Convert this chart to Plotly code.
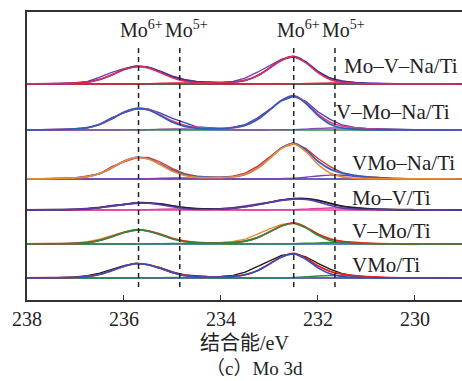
import plotly.graph_objects as go

# ---------------- data ----------------
binding_energy = [238.0, 237.5, 237.0, 236.75, 236.5, 236.25, 236.0, 235.75, 235.5, 235.25,
                  235.0, 234.75, 234.5, 234.25, 234.0, 233.75, 233.5, 233.25, 233.0, 232.75,
                  232.5, 232.25, 232.0, 231.75, 231.5, 231.25, 231.0, 230.5, 230.0, 229.5, 229.0]

samples = ["Mo–V–Na/Ti", "V–Mo–Na/Ti", "VMo–Na/Ti", "Mo–V/Ti", "V–Mo/Ti", "VMo/Ti"]
offsets = [216, 170, 121, 90, 56, 22]

# Mo–V–Na/Ti
raw_1 = [0.3, 0.0, 1.3, 2.6, 6.8, 11.6, 15.4, 18.2, 16.9, 12.8, 7.9, 4.6, 2.5, 1.9, 1.7, 2.5, 5.8, 11.8, 18.6, 24.9, 27.0, 22.4, 12.8, 6.0, 3.1, 1.6, 1.0, 0.4, -0.2, 0.3, 0.0]
env_1 = [0.1, 0.3, 0.9, 1.9, 4.6, 9.1, 14.5, 17.5, 16.5, 12.2, 7.3, 3.9, 2.1, 1.6, 1.4, 1.8, 3.7, 8.3, 15.9, 23.9, 27.5, 21.8, 12.2, 5.6, 2.6, 1.4, 0.7, 0.2, 0.1, 0.1, 0.0]
mo6_1 = [0.1, 0.3, 0.9, 1.9, 4.6, 9.1, 14.4, 17.3, 16.1, 11.5, 6.3, 2.9, 1.3, 1.1, 1.2, 1.7, 3.7, 8.3, 15.9, 23.8, 27.3, 21.3, 11.4, 4.6, 1.6, 0.7, 0.3, 0.1, 0.1, 0.1, 0.0]
mo5_1 = [0, 0, 0, 0, 0, 0, 0.1, 0.2, 0.4, 0.7, 1.0, 1.0, 0.8, 0.5, 0.2, 0.1, 0, 0, 0, 0.1, 0.2, 0.5, 0.8, 1.0, 1.0, 0.7, 0.4, 0.1, 0, 0, 0]

# V–Mo–Na/Ti
raw_2 = [0.2, -0.3, 1.4, 2.2, 6.0, 12.4, 17.0, 21.0, 21.2, 16.8, 11.6, 7.3, 3.2, 2.4, 1.2, 2.8, 5.4, 11.9, 20.5, 29.2, 33.6, 28.7, 18.2, 10.6, 5.0, 2.7, 1.5, 0.6, 0.4, 0.1, 0.3]
env_2 = [0.1, 0.4, 1.1, 2.4, 5.6, 11.3, 17.9, 21.7, 20.4, 15.0, 8.8, 4.6, 2.5, 1.9, 1.6, 2.3, 4.7, 10.4, 19.9, 29.8, 34.4, 27.4, 15.8, 7.8, 3.9, 2.3, 1.2, 0.3, 0.1, 0.1, 0.0]
mo6_2 = [0.1, 0.4, 1.1, 2.4, 5.6, 11.3, 17.8, 21.5, 20.0, 14.3, 7.8, 3.6, 1.7, 1.4, 1.4, 2.2, 4.7, 10.4, 19.8, 29.6, 34.0, 26.5, 14.3, 5.8, 2.0, 0.9, 0.4, 0.1, 0.1, 0.1, 0.0]
mo5_2 = [0, 0, 0, 0, 0, 0, 0.1, 0.2, 0.4, 0.7, 1.0, 1.0, 0.8, 0.5, 0.2, 0.1, 0, 0, 0.1, 0.2, 0.4, 0.9, 1.5, 2.0, 1.9, 1.4, 0.8, 0.2, 0, 0, 0]

# VMo–Na/Ti
raw_3 = [0.3, 0.1, 1.0, 2.8, 5.2, 12.3, 17.2, 21.2, 21.5, 17.0, 10.4, 5.4, 2.9, 2.2, 1.9, 2.8, 5.9, 12.6, 22.4, 31.3, 35.2, 30.6, 20.5, 12.4, 6.3, 3.4, 2.3, 0.8, 0.1, 0.3, -0.2]
env_3 = [0.1, 0.4, 1.1, 2.4, 5.6, 11.2, 17.8, 21.6, 20.3, 14.9, 8.8, 4.5, 2.4, 1.9, 1.6, 2.3, 4.7, 10.7, 20.6, 30.9, 35.8, 29.1, 17.7, 9.9, 5.9, 3.7, 2.0, 0.5, 0.1, 0.1, 0.0]
mo6_3 = [0.1, 0.4, 1.1, 2.4, 5.6, 11.2, 17.7, 21.4, 19.9, 14.2, 7.8, 3.5, 1.6, 1.4, 1.4, 2.2, 4.7, 10.7, 20.4, 30.5, 35.0, 27.3, 14.7, 6.0, 2.1, 0.9, 0.4, 0.2, 0.1, 0.1, 0.0]
mo5_3 = [0, 0, 0, 0, 0, 0, 0.1, 0.2, 0.4, 0.7, 1.0, 1.0, 0.8, 0.5, 0.2, 0.1, 0, 0, 0.2, 0.4, 0.8, 1.8, 3.0, 3.9, 3.8, 2.8, 1.6, 0.3, 0, 0, 0]

# Mo–V/Ti
raw_4 = [0.2, -0.2, 0.9, 1.6, 2.8, 4.5, 5.7, 6.9, 7.4, 6.1, 4.0, 2.6, 1.1, 1.2, 1.6, 2.4, 3.9, 6.0, 7.9, 10.2, 11.6, 11.0, 9.9, 6.4, 3.5, 2.5, 1.0, 0.3, -0.1, 0.2, 0.1]
env_4 = [0.1, 0.3, 0.7, 1.2, 2.3, 4.0, 5.5, 7.1, 7.1, 6.0, 4.2, 2.3, 1.3, 1.0, 1.2, 1.9, 3.3, 5.3, 7.6, 9.8, 11.3, 11.4, 9.6, 6.6, 3.8, 2.3, 1.3, 0.5, 0.2, 0.1, 0.0]
mo6_4 = [0.1, 0.3, 0.7, 1.2, 2.3, 4.0, 5.4, 6.9, 6.7, 5.3, 3.2, 1.3, 0.5, 0.5, 1.0, 1.8, 3.3, 5.3, 7.5, 9.6, 10.9, 10.5, 8.1, 4.6, 1.9, 0.9, 0.5, 0.3, 0.2, 0.1, 0.0]
mo5_4 = [0, 0, 0, 0, 0, 0, 0.1, 0.2, 0.4, 0.7, 1.0, 1.0, 0.8, 0.5, 0.2, 0.1, 0, 0, 0.1, 0.2, 0.4, 0.9, 1.5, 2.0, 1.9, 1.4, 0.8, 0.2, 0, 0, 0]

# V–Mo/Ti
raw_5 = [0.2, -0.3, 1.2, 2.3, 4.8, 8.4, 12.0, 14.6, 13.0, 10.1, 5.9, 3.2, 1.7, 1.4, 1.6, 2.6, 4.8, 9.8, 15.2, 19.6, 20.6, 16.3, 10.1, 5.4, 2.3, 1.2, 0.4, -0.4, -0.5, 0.2, -0.3]
env_5 = [0.1, 0.25, 0.7, 1.5, 3.6, 7.3, 11.5, 14.0, 13.1, 9.6, 5.5, 2.8, 1.5, 1.1, 1.0, 1.4, 2.9, 6.3, 12.1, 18.1, 21.0, 16.8, 9.8, 5.0, 2.6, 1.6, 0.85, 0.2, 0.1, 0.1, 0.0]
mo6_5 = [0.1, 0.25, 0.7, 1.5, 3.6, 7.3, 11.5, 13.9, 12.9, 9.2, 5.0, 2.3, 1.1, 0.9, 0.9, 1.4, 2.9, 6.3, 12.0, 18.0, 20.7, 16.1, 8.7, 3.5, 1.2, 0.5, 0.25, 0.1, 0.1, 0.1, 0.0]
mo5_5 = [0, 0, 0, 0, 0, 0, 0, 0.1, 0.2, 0.4, 0.5, 0.5, 0.4, 0.2, 0.1, 0, 0, 0, 0.1, 0.1, 0.3, 0.7, 1.1, 1.5, 1.4, 1.1, 0.6, 0.1, 0, 0, 0]

# VMo/Ti
raw_6 = [0.2, 0.1, 1.1, 2.3, 4.9, 8.6, 12.4, 14.8, 13.1, 10.4, 6.1, 3.0, 1.8, 1.3, 1.6, 2.6, 5.8, 11.6, 17.2, 22.6, 24.3, 21.2, 14.6, 8.9, 4.3, 2.2, 1.4, 0.1, -0.2, -0.4, -0.3]
env_6 = [0.1, 0.26, 0.7, 1.6, 3.7, 7.4, 11.7, 14.3, 13.4, 9.8, 5.7, 2.8, 1.5, 1.2, 1.1, 1.6, 3.3, 7.3, 14.0, 21.1, 24.6, 19.9, 12.1, 6.7, 3.9, 2.4, 1.3, 0.3, 0.1, 0.1, 0.0]
mo6_6 = [0.1, 0.26, 0.7, 1.6, 3.7, 7.4, 11.7, 14.2, 13.2, 9.4, 5.2, 2.3, 1.1, 1.0, 1.0, 1.6, 3.3, 7.3, 13.9, 20.9, 24.1, 18.7, 10.1, 4.2, 1.4, 0.6, 0.3, 0.1, 0.1, 0.1, 0.0]
mo5_6 = [0, 0, 0, 0, 0, 0, 0, 0.1, 0.2, 0.4, 0.5, 0.5, 0.4, 0.2, 0.1, 0, 0, 0, 0.1, 0.2, 0.5, 1.2, 2.0, 2.5, 2.5, 1.8, 1.0, 0.2, 0, 0, 0]

peak_positions = [235.7, 234.85, 232.5, 231.65]
peak_labels = ["Mo<sup>6+</sup>", "Mo<sup>5+</sup>", "Mo<sup>6+</sup>", "Mo<sup>5+</sup>"]
x_ticks = [238, 236, 234, 232, 230]

raw_all = [raw_1, raw_2, raw_3, raw_4, raw_5, raw_6]
env_all = [env_1, env_2, env_3, env_4, env_5, env_6]
mo6_all = [mo6_1, mo6_2, mo6_3, mo6_4, mo6_5, mo6_6]
mo5_all = [mo5_1, mo5_2, mo5_3, mo5_4, mo5_5, mo5_6]

# ---------------- style ----------------
# (raw, envelope, Mo6+ component, Mo5+ component, baseline)
colours = [
    ("#7a3aa8", "#2c3593", "#e02a5a", "#e8203a", "#222222"),
    ("#4040a8", "#e5407f", "#2860c0", "#8a4ab0", "#2e8b57"),
    ("#e82828", "#2f62c4", "#f08a30", "#8040b0", "#2c3593"),
    ("#b84cb8", "#222222", "#5a3cb0", "#e0409a", "#e0409a"),
    ("#f08a30", "#e82020", "#2e8b3e", "#2e8b3e", "#3050b0"),
    ("#1a1a1a", "#e82020", "#3050c0", "#2e8b3e", "#2c3593"),
]
label_pos = [(231.50, 18), (231.67, 18), (231.33, 16), (231.33, 12), (231.33, 13), (231.33, 13)]
peak_label_x = [235.64, 234.71, 232.40, 231.48]

serif = "Liberation Serif, Times New Roman, Noto Sans CJK SC, serif"

fig = go.Figure()

for i in range(len(samples)):
    off = offsets[i]
    c_raw, c_env, c_mo6, c_mo5, c_base = colours[i]
    shift = lambda arr: [off + v for v in arr]
    fig.add_trace(go.Scatter(x=binding_energy, y=[off] * len(binding_energy), mode="lines",
                             line=dict(color=c_base, width=1.6), hoverinfo="skip"))
    fig.add_trace(go.Scatter(x=binding_energy, y=shift(raw_all[i]), mode="lines",
                             line=dict(color=c_raw, width=1.3), name=samples[i] + " raw"))
    fig.add_trace(go.Scatter(x=binding_energy, y=shift(mo5_all[i]), mode="lines",
                             line=dict(color=c_mo5, width=1.4, shape="spline", smoothing=1.0)))
    fig.add_trace(go.Scatter(x=binding_energy, y=shift(env_all[i]), mode="lines",
                             line=dict(color=c_env, width=1.8, shape="spline", smoothing=1.0)))
    fig.add_trace(go.Scatter(x=binding_energy, y=shift(mo6_all[i]), mode="lines",
                             line=dict(color=c_mo6, width=1.6, shape="spline", smoothing=1.0)))
    fig.add_annotation(x=label_pos[i][0], y=off + label_pos[i][1], text=samples[i],
                       xanchor="left", yanchor="middle", showarrow=False,
                       font=dict(family=serif, size=21, color="#222222"))

for px in peak_positions:
    fig.add_shape(type="line", x0=px, x1=px, y0=13, y1=255, xref="x", yref="y",
                  line=dict(color="#222222", width=1.5, dash="5px,4px"))

for lx, lt in zip(peak_label_x, peak_labels):
    fig.add_annotation(x=lx, y=271, text=lt, showarrow=False, xanchor="center", yanchor="middle",
                       font=dict(family=serif, size=20, color="#222222"))

fig.add_annotation(x=0.522, y=-0.238, xref="paper", yref="paper", text="（c）Mo 3d",
                   showarrow=False, xanchor="center", yanchor="middle",
                   font=dict(family=serif, size=19, color="#222222"))

fig.update_layout(
    width=462, height=381,
    margin=dict(l=27, r=0, t=12, b=81, autoexpand=False),
    paper_bgcolor="white", plot_bgcolor="white",
    showlegend=False,
    xaxis=dict(range=[238, 229.03], tickvals=x_ticks, ticks="inside", ticklen=5, tickwidth=1.3,
               tickcolor="#333333", showline=True, linecolor="#333333", linewidth=1.5, mirror=True,
               showgrid=False, zeroline=False, automargin=False,
               tickfont=dict(family=serif, size=20, color="#222222"),
               title=dict(text="结合能/eV", standoff=7,
                          font=dict(family=serif, size=20, color="#222222"))),
    yaxis=dict(range=[0, 288], showline=True, linecolor="#333333", linewidth=1.5, automargin=False,
               showticklabels=False, ticks="", showgrid=False, zeroline=False),
)

fig.write_html("out.html", config={"displayModeBar": False},
               post_script="document.body.style.margin='0';document.body.style.overflow='hidden';")
